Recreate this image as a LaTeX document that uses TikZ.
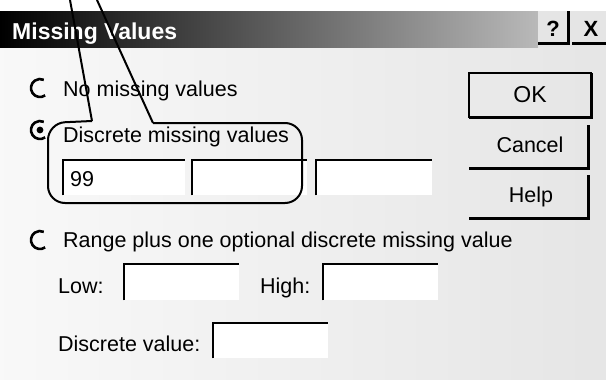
\documentclass[tikz,border=0pt]{standalone}
\usepackage{fontspec}
\setmainfont{Liberation Sans}
\begin{document}
\begin{tikzpicture}[x=1pt,y=-1pt,
  lbl/.style={anchor=base west, inner sep=0pt, font=\fontsize{21.5}{24}\selectfont},
  btnlbl/.style={anchor=base, inner sep=0pt, font=\fontsize{21.5}{24}\selectfont},
  sunken/.style={line width=2.4pt, black},
  field/.style={fill=white, anchor=north west, inner sep=0pt, minimum height=35pt},
  btnface/.style={anchor=north west, inner sep=0pt, minimum width=119pt, minimum height=43pt},
  shadowedge/.style={line width=3pt, black},
  callout/.style={line width=2pt, black},
  radio/.style={line width=2.6pt, black},
]
\useasboundingbox (0,0) rectangle (606,380);
% background
\shade[left color=gray!5, right color=gray!20] (0,47) rectangle (606,380);
\fill[white] (0,0) rectangle (606,11);
% title bar
\shade[left color=black, right color=gray!55] (0,11) rectangle (538,47);
\fill[gray!20] (538,11) rectangle (606,47);
\node[anchor=base west, inner sep=0pt, text=white, font=\bfseries\fontsize{23}{25}\selectfont] (title) at (12,39) {Missing Values};
% title buttons
\node[anchor=north west, inner sep=0pt, minimum width=30pt, minimum height=32pt] (qbtn) at (538,11) {};
\node[font=\bfseries\fontsize{22}{24}\selectfont, inner sep=0pt] (qmark) at (553,29) {?};
\draw[shadowedge] (qbtn.south west) -- (qbtn.south east) -- (qbtn.north east);
\node[anchor=north west, inner sep=0pt, minimum width=36pt, minimum height=32pt] (xbtn) at (572,11) {};
\node[font=\bfseries\fontsize{22}{24}\selectfont, inner sep=0pt] (xmark) at (591,29) {X};
\draw[shadowedge] (xbtn.south west) -- (xbtn.south east);
% radio buttons
\coordinate (r1) at (40,88);
\coordinate (r2) at (40,130);
\coordinate (r3) at (40,240);
\draw[radio] (r1) ++(55:9) arc[start angle=55, end angle=295, radius=9];
\draw[radio] (r2) ++(55:9) arc[start angle=55, end angle=295, radius=9];
\fill (r2) circle[radius=3.4];
\draw[radio] (r3) ++(55:9) arc[start angle=55, end angle=295, radius=9];
% labels
\node[lbl] (nomiss) at (63,96) {No missing values};
\node[lbl] (discrete) at (63,142) {Discrete missing values};
\node[lbl] (range) at (63,247) {Range plus one optional discrete missing value};
\node[lbl] (low) at (58,293) {Low:};
\node[lbl] (high) at (260,293) {High:};
\node[lbl] (dval) at (58,351) {Discrete value:};
% edit fields
\node[field, minimum width=122pt] (f1) at (63,160) {};
\node[field, minimum width=115pt] (f2) at (192,160) {};
\node[field, minimum width=116pt] (f3) at (316,160) {};
\node[field, minimum width=115pt, minimum height=36pt] (flow) at (124,264) {};
\node[field, minimum width=115pt, minimum height=36pt] (fhigh) at (323,264) {};
\node[field, minimum width=115pt, minimum height=35pt] (fdisc) at (213,323) {};
\foreach \f in {f1,f2,f3,flow,fhigh,fdisc}
  \draw[sunken] (\f.south west) -- (\f.north west) -- (\f.north east);
\node[lbl] (v99) at (70,186) {99};
% buttons
\node[btnface, minimum width=122pt, minimum height=44pt] (ok) at (469,73) {};
\draw[line width=2pt] (ok.south west) rectangle (ok.north east);
\draw[shadowedge] (ok.south west) -- (ok.south east) -- (ok.north east);
\node[btnlbl, font=\fontsize{23}{25}\selectfont] (oklbl) at (530,102) {OK};
\node[btnface] (cancel) at (469,125) {};
\draw[shadowedge] (cancel.south west) -- (cancel.south east) -- (cancel.north east);
\node[btnlbl] (cancellbl) at (530,152) {Cancel};
\node[btnface] (help) at (469,175) {};
\draw[shadowedge] (help.south west) -- (help.south east) -- (help.north east);
\node[btnlbl] (helplbl) at (531,202) {Help};
% callout
\coordinate (ltop) at (70,0);
\coordinate (lbot) at (92,121);
\coordinate (rtop) at (97,0);
\coordinate (rbot) at (153,123);
\coordinate (bnw) at (48,123);
\coordinate (bsw) at (48,203);
\coordinate (bse) at (302,203);
\coordinate (bne) at (302,123);
\draw[callout] (ltop) -- (lbot);
\draw[callout] (rtop) -- (rbot);
\draw[callout, rounded corners=17pt] (lbot) -- (bnw) -- (bsw) -- (bse) -- (bne) -- (rbot);
\end{tikzpicture}
\end{document}
